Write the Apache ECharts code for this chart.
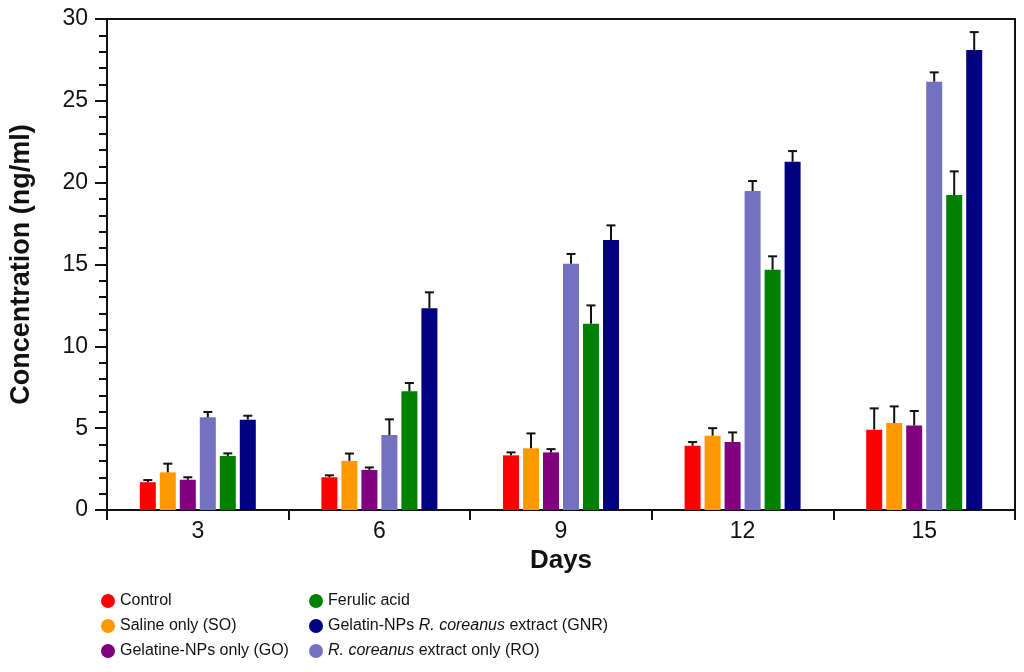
<!DOCTYPE html>
<html>
<head>
<meta charset="utf-8">
<script src="https://cdn.jsdelivr.net/npm/echarts@6/dist/echarts.min.js"></script>
<style>
html,body{margin:0;padding:0;background:#fff;}
#c{width:1024px;height:672px;}
</style>
</head>
<body>
<div id="c"></div>
<script>
// ---- data ----
var days = ['3', '6', '9', '12', '15'];
var seriesNames = ['Control', 'Saline only (SO)', 'Gelatine-NPs only (GO)', 'R. coreanus extract only (RO)', 'Ferulic acid', 'Gelatin-NPs R. coreanus extract (GNR)'];
var control = [1.70, 2.00, 3.34, 3.93, 4.91];
var controlErr = [0.13, 0.12, 0.18, 0.22, 1.30];
var saline = [2.30, 3.00, 3.77, 4.54, 5.31];
var salineErr = [0.53, 0.45, 0.91, 0.46, 1.02];
var gelatine = [1.85, 2.45, 3.52, 4.15, 5.17];
var gelatineErr = [0.15, 0.15, 0.20, 0.59, 0.88];
var coreanus = [5.66, 4.58, 15.05, 19.49, 26.17];
var coreanusErr = [0.33, 0.96, 0.59, 0.61, 0.57];
var ferulic = [3.30, 7.25, 11.38, 14.68, 19.24];
var ferulicErr = [0.16, 0.51, 1.12, 0.82, 1.45];
var gnr = [5.52, 12.32, 16.49, 21.28, 28.10];
var gnrErr = [0.24, 0.98, 0.90, 0.65, 1.10];
var colors = ['#ff0000', '#ff9900', '#800080', '#7272c0', '#008000', '#000080'];
var yTicks = [0, 5, 10, 15, 20, 25, 30];

var values = [control, saline, gelatine, coreanus, ferulic, gnr];
var errs = [controlErr, salineErr, gelatineErr, coreanusErr, ferulicErr, gnrErr];

var FONT = 'Liberation Sans, Arial, sans-serif';
var BAR_W = 16, BAR_GAP_PX = 4;

var series = [];
values.forEach(function (vals, k) {
  series.push({
    name: seriesNames[k],
    type: 'bar',
    data: vals,
    barWidth: BAR_W,
    barGap: '25%',
    itemStyle: { color: colors[k] },
    z: 2
  });
});

var errData = [];
values.forEach(function (vals, k) {
  vals.forEach(function (v, i) {
    errData.push([i, v, v + errs[k][i], k]);
  });
});

series.push({
  type: 'custom',
  name: 'err',
  data: errData,
  z: 3,
  silent: true,
  renderItem: function (params, api) {
    var cat = api.value(0);
    var k = api.value(3);
    var off = (k - 2.5) * (BAR_W + BAR_GAP_PX);
    var p0 = api.coord([cat, api.value(1)]);
    var p1 = api.coord([cat, api.value(2)]);
    var x = p0[0] + off;
    var cap = 4.5;
    var st = { stroke: '#111', lineWidth: 2 };
    return {
      type: 'group',
      children: [
        { type: 'line', shape: { x1: x, y1: p0[1], x2: x, y2: p1[1] }, style: st },
        { type: 'line', shape: { x1: x - cap, y1: p1[1], x2: x + cap, y2: p1[1] }, style: st }
      ]
    };
  }
});

function legendFmt(name) {
  if (name === 'R. coreanus extract only (RO)') return '{i|R. coreanus} extract only (RO)';
  if (name === 'Gelatin-NPs R. coreanus extract (GNR)') return 'Gelatin-NPs {i|R. coreanus} extract (GNR)';
  return name;
}
var legendText = {
  fontFamily: FONT, fontSize: 16, color: '#111',
  rich: { i: { fontStyle: 'italic', fontFamily: FONT, fontSize: 16, color: '#111' } }
};

var chart = echarts.init(document.getElementById('c'));
chart.setOption({
  backgroundColor: '#fff',
  animation: false,
  grid: { left: 107, right: 9, top: 19, bottom: 162 },
  legend: [
    {
      data: [seriesNames[0], seriesNames[1], seriesNames[2]],
      orient: 'vertical', left: 101, top: 593, height: 78, padding: 0,
      icon: 'circle', itemWidth: 14, itemHeight: 14, itemGap: 9, itemTextGap: 7,
      textStyle: legendText, formatter: legendFmt
    },
    {
      data: [seriesNames[4], seriesNames[5], seriesNames[3]],
      orient: 'vertical', left: 309, top: 593, height: 78, padding: 0,
      icon: 'circle', itemWidth: 14, itemHeight: 14, itemGap: 9, itemTextGap: 6,
      textStyle: legendText, formatter: legendFmt
    }
  ],
  xAxis: [
    {
      type: 'category',
      data: days,
      name: 'Days',
      nameLocation: 'middle',
      nameGap: 36,
      nameTextStyle: { fontFamily: FONT, fontSize: 26, fontWeight: 'bold', color: '#111' },
      axisLine: { lineStyle: { color: '#111', width: 2 } },
      axisTick: { show: true, length: 10, lineStyle: { color: '#111', width: 2 } },
      axisLabel: { fontFamily: FONT, fontSize: 23, color: '#111', margin: 10 }
    },
    {
      type: 'category', data: days, position: 'top',
      axisLine: { onZero: false, lineStyle: { color: '#111', width: 2 } },
      axisTick: { show: false }, axisLabel: { show: false }
    }
  ],
  yAxis: [
    {
      type: 'value',
      min: yTicks[0], max: yTicks[yTicks.length - 1], interval: 5,
      name: 'Concentration (ng/ml)',
      nameLocation: 'middle',
      nameGap: 72,
      nameTextStyle: { fontFamily: FONT, fontSize: 27, fontWeight: 'bold', color: '#111' },
      axisLine: { show: true, lineStyle: { color: '#111', width: 2 } },
      axisTick: { show: true, length: 12, lineStyle: { color: '#111', width: 2 } },
      minorTick: { show: true, splitNumber: 5, length: 8, lineStyle: { color: '#111', width: 2 } },
      splitLine: { show: false },
      axisLabel: { fontFamily: FONT, fontSize: 23, color: '#111', margin: 19 }
    },
    {
      type: 'value', position: 'right',
      min: yTicks[0], max: yTicks[yTicks.length - 1], interval: 5,
      axisLine: { show: true, onZero: false, lineStyle: { color: '#111', width: 2 } },
      axisTick: { show: false }, axisLabel: { show: false }, splitLine: { show: false }
    }
  ],
  series: series
});
</script>
</body>
</html>
